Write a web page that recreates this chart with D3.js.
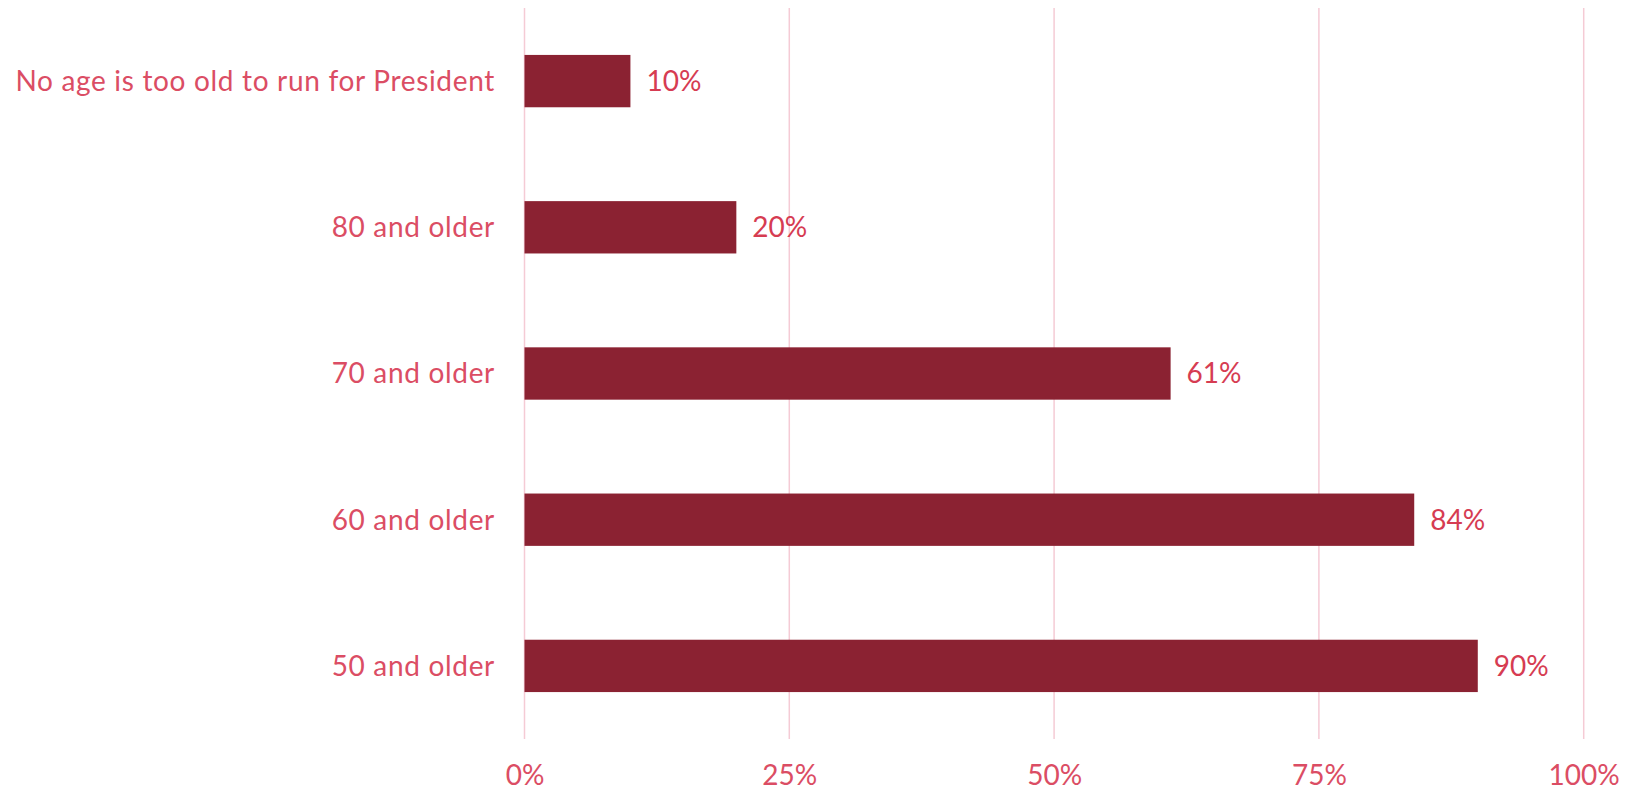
<!DOCTYPE html>
<html><head><meta charset="utf-8">
<script src="https://cdn.jsdelivr.net/npm/d3@7"></script>
<style>html,body{margin:0;padding:0;background:#fff;}svg{display:block;}</style>
</head><body>
<svg id="chart" width="1625" height="794"></svg>
<script>
const categories = ["No age is too old to run for President","80 and older","70 and older","60 and older","50 and older"];
const values = [10,20,61,84,90];
const tickValues = [0,25,50,75,100];

const svg = d3.select("#chart");
const FONT = "Lato, 'Open Sans', sans-serif";
const FS = 28;
const x = d3.scaleLinear().domain([0,100]).range([524.5,1583.7]);
const y = d3.scaleBand().domain(categories).range([8,739]).paddingInner(0.642).paddingOuter(0.321);

// gridlines
svg.append("g").selectAll("line").data(tickValues).join("line")
  .attr("x1",d=>x(d)).attr("x2",d=>x(d)).attr("y1",8).attr("y2",739)
  .attr("stroke","#f5cbd5").attr("stroke-width",1.5);

// x axis tick labels
const xAxis = d3.axisBottom(x).tickValues(tickValues).tickFormat(d=>d+"%").tickSize(0).tickPadding(0);
const gx = svg.append("g").attr("transform","translate(0,765)").call(xAxis);
gx.select(".domain").remove();
gx.selectAll("text").attr("font-family",FONT).attr("font-size",FS).attr("fill","#db4d64").attr("dy","0.71em");

// y axis labels
const yAxis = d3.axisLeft(y).tickSize(0).tickPadding(0);
const gy = svg.append("g").attr("transform","translate(495,0)").call(yAxis);
gy.select(".domain").remove();
gy.selectAll("text").attr("font-family",FONT).attr("font-size",FS).attr("fill","#db4d64").attr("dy","0.35em")
  .attr("letter-spacing","0.68px");

// bars
svg.append("g").selectAll("rect").data(categories).join("rect")
  .attr("x",x(0)).attr("y",d=>y(d)).attr("width",(d,i)=>x(values[i])-x(0)).attr("height",y.bandwidth())
  .attr("fill","#8b2232");

// value labels
svg.append("g").selectAll("text").data(categories).join("text")
  .attr("x",(d,i)=>x(values[i])+16).attr("y",d=>y(d)+y.bandwidth()/2).attr("dy","0.35em")
  .attr("font-family",FONT).attr("font-size",FS).attr("fill","#d63c52")
  .text((d,i)=>values[i]+"%");
</script>
</body></html>
